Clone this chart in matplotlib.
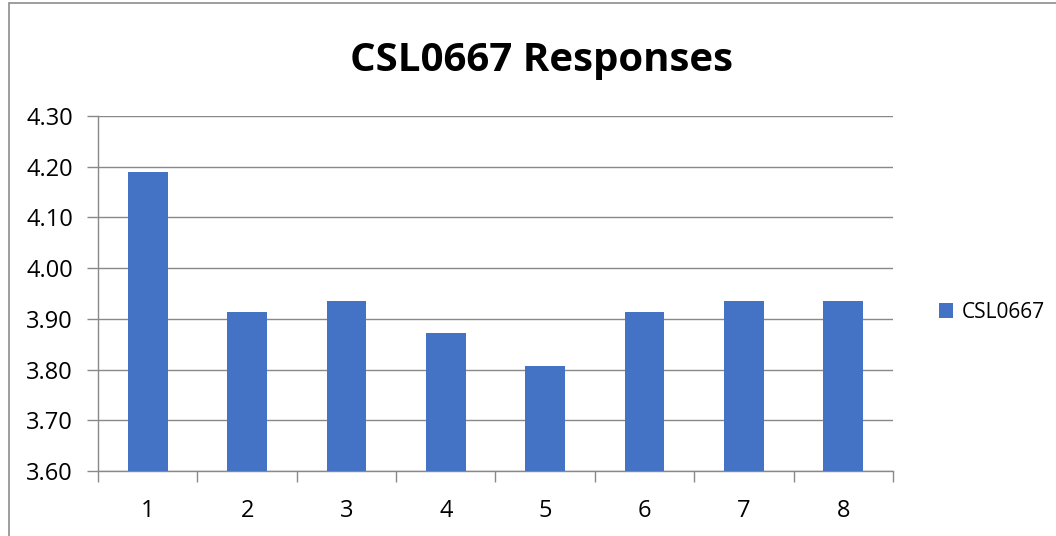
import matplotlib.pyplot as plt
from matplotlib.patches import Rectangle

plt.rcParams['font.family'] = ['Open Sans', 'DejaVu Sans']

categories = ['1', '2', '3', '4', '5', '6', '7', '8']
values = [4.19, 3.914, 3.935, 3.872, 3.808, 3.914, 3.935, 3.935]
series_name = 'CSL0667'
yticks = [3.60, 3.70, 3.80, 3.90, 4.00, 4.10, 4.20, 4.30]

grid_c = '#898989'

fig = plt.figure(figsize=(10.56, 5.36), dpi=100)
# outer chart border
fig.patches.append(Rectangle((9 / 1056, -0.1), 1.2, 1 - 3 / 536 + 0.1,
                             transform=fig.transFigure, fill=False,
                             edgecolor='#8c8c8c', linewidth=1.2))

ax = fig.add_axes([98 / 1056, 1 - 471 / 536, 795 / 1056, 355 / 536])
x = list(range(len(categories)))
ax.bar(x, values, width=0.4, color='#4472C4', label=series_name, zorder=3)

ax.set_ylim(3.60, 4.30)
ax.set_xlim(-0.5, len(categories) - 0.5)
ax.set_yticks(yticks)
ax.set_yticklabels([f'{v:.2f}' for v in yticks])
ax.yaxis.grid(True, color=grid_c, linewidth=1)
ax.set_axisbelow(True)

ax.set_xticks(x)
ax.set_xticklabels(categories)
ax.set_xticks([i - 0.5 for i in range(len(categories) + 1)], minor=True)
ax.tick_params(axis='x', which='major', length=0, pad=20, labelsize=17)
ax.tick_params(axis='x', which='minor', length=8, color=grid_c, width=1)
ax.tick_params(axis='y', length=8, color=grid_c, width=1, labelsize=17, pad=10)

for s in ['top', 'right']:
    ax.spines[s].set_visible(False)
for s in ['left', 'bottom']:
    ax.spines[s].set_color(grid_c)
    ax.spines[s].set_linewidth(1)

fig.text(542 / 1056, 1 - 61 / 536, 'CSL0667 Responses', ha='center', va='center',
         fontsize=29, fontweight='bold')

fig.legend(loc='center left', bbox_to_anchor=(920 / 1056, 1 - 312 / 536),
           frameon=False, fontsize=15, handlelength=0.7, handleheight=0.7,
           handletextpad=0.4)

fig.savefig('out.png', dpi=100)
